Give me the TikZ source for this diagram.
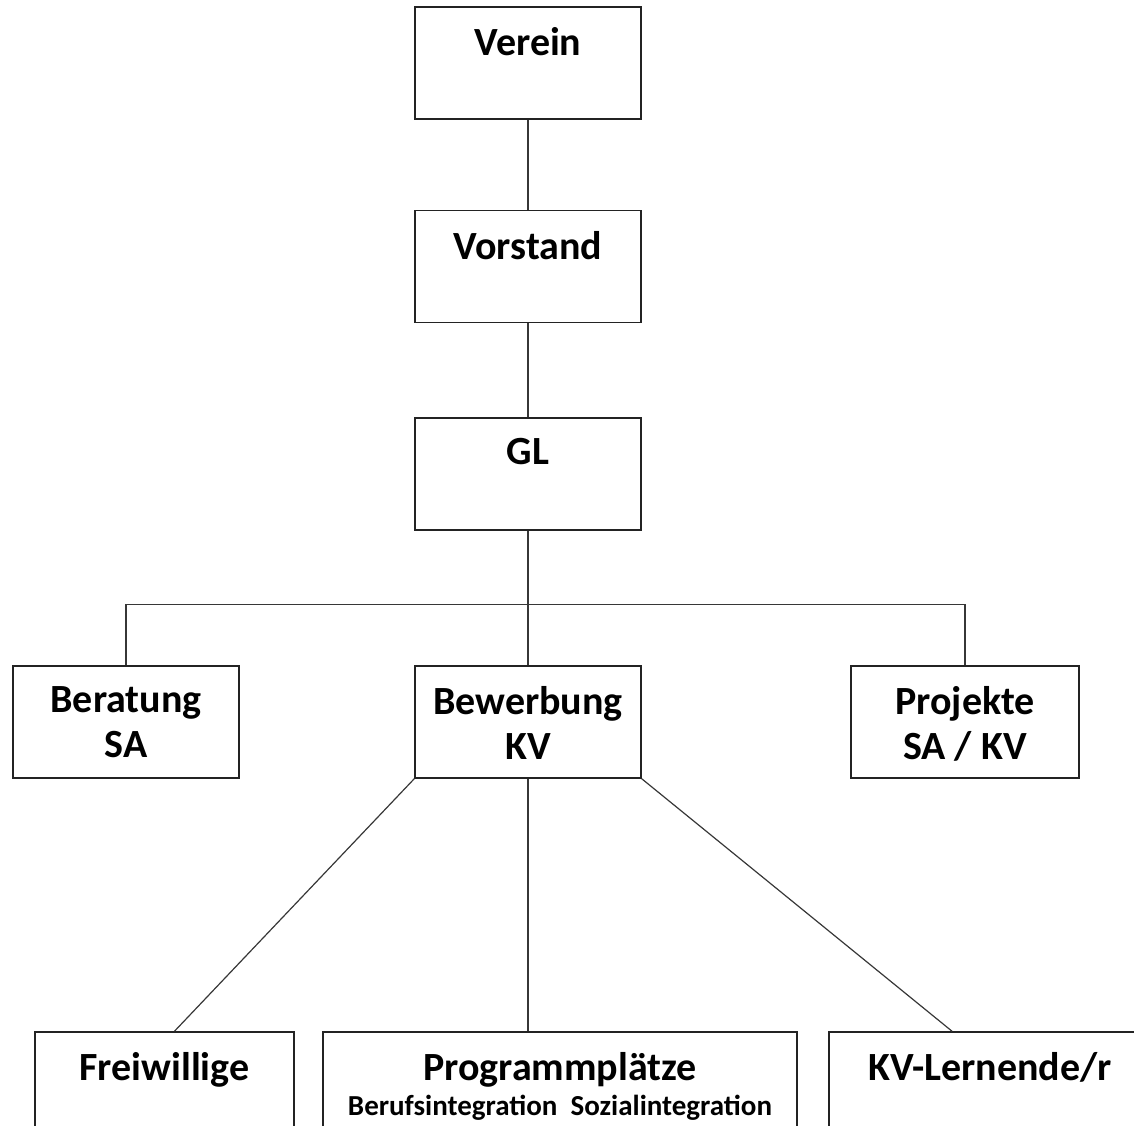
\documentclass[tikz,border=0pt]{standalone}
\usepackage{fontspec}
\setmainfont{Carlito}
\definecolor{boxline}{RGB}{35,35,35}
\definecolor{linkline}{RGB}{55,55,55}
\usetikzlibrary{positioning}

\begin{document}
\begin{tikzpicture}[x=0.5pt, y=-0.5pt, every node/.style={align=center},
	orgbox/.style={draw=boxline, line width=0.8pt, minimum width=113pt, minimum height=56pt, inner sep=0pt},
	boxtext/.style={anchor=north, yshift=-10.5pt, inner sep=0pt, font=\fontsize{20}{22.5}\selectfont\bfseries},
	link/.style={draw=linkline, line width=0.6pt}]
		\clip (0,0) rectangle (1134,1125);
		\node[orgbox, label={[boxtext]north:Verein}] (verein) at (528,63) {};
		\node[orgbox, label={[boxtext]north:Vorstand}] (vorstand) at (528,266.5) {};
		\node[orgbox, label={[boxtext]north:GL}] (gl) at (528,474) {};
		\node[orgbox, label={[boxtext]north:Beratung\\SA}] (beratung) at (126,722) {};
		\node[orgbox, label={[boxtext]north:Bewerbung\\KV}] (bewerbung) at (528,722) {};
		\node[orgbox, minimum width=114pt, label={[boxtext]north:Projekte\\SA / KV}] (projekte) at (965,722) {};
		\node[orgbox, minimum width=129.5pt, label={[boxtext]north:Freiwillige}] (freiwillige) at (164.5,1088) {};
		\node[orgbox, minimum width=237pt, label={[boxtext]north:Programmpl\"atze\\[-5pt]{\fontsize{14.5}{16}\selectfont Berufsintegration\ \ Sozialintegration}}] (programm) at (560,1088) {};
		\node[orgbox, minimum width=161pt, label={[boxtext]north:KV-Lernende/r}] (kvlernende) at (990,1088) {};
		\path (gl.south) ++(0,74) coordinate (bus);
		\draw[link] (verein) -- (vorstand);
		\draw[link] (vorstand) -- (gl);
		\draw[link] (gl) -- (bewerbung);
		\draw[link] (beratung.north) |- (bus) -| (projekte.north);
		\draw[link] (bewerbung.south west) -- ([xshift=5pt]freiwillige.north);
		\draw[link] (bewerbung.south) -- (bewerbung.south |- programm.north);
		\draw[link] (bewerbung.south east) -- ([xshift=-19pt]kvlernende.north);
	\end{tikzpicture}
\end{document}
